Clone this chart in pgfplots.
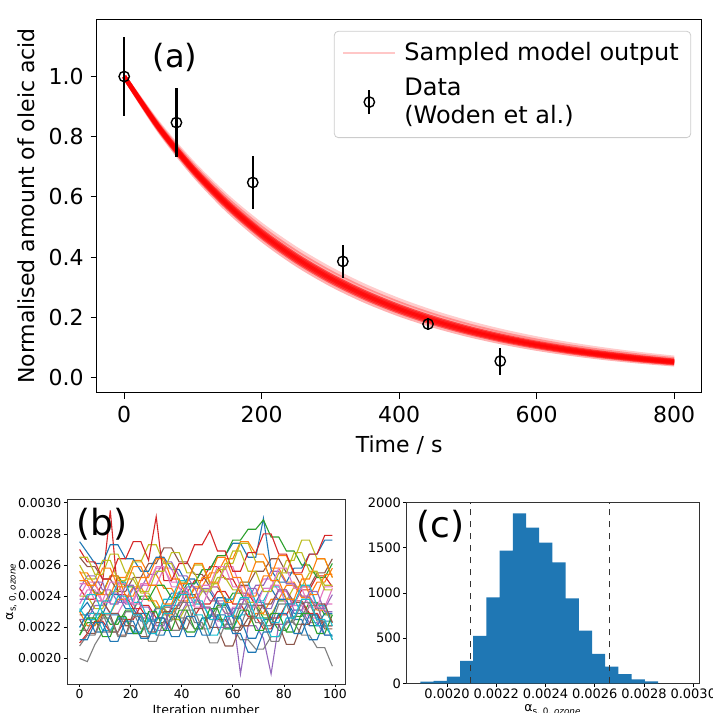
\documentclass[border=0pt]{standalone}
\usepackage{fontspec}
\setmainfont{DejaVu Sans}
\usepackage{pgfplots}
\usepackage{pgfplotstable}
\pgfplotsset{compat=1.18}

\definecolor{tabblue}{HTML}{1F77B4}
\definecolor{taborange}{HTML}{FF7F0E}
\definecolor{tabgreen}{HTML}{2CA02C}
\definecolor{tabred}{HTML}{D62728}
\definecolor{tabpurple}{HTML}{9467BD}
\definecolor{tabbrown}{HTML}{8C564B}
\definecolor{tabpink}{HTML}{E377C2}
\definecolor{tabgray}{HTML}{7F7F7F}
\definecolor{tabolive}{HTML}{BCBD22}
\definecolor{tabcyan}{HTML}{17BECF}

\pgfplotscreateplotcyclelist{tab}{%
{tabblue},{taborange},{tabgreen},{tabred},{tabpurple},{tabbrown},{tabpink},{tabgray},{tabolive},{tabcyan}}

% MCMC traces, values in units of 1e-4
\pgfplotstableread{
x  c1   c2   c3   c4   c5   c6   c7   c8   c9   c10  c11  c12  c13  c14  c15  c16  c17  c18  c19  c20  c21  c22  c23  c24  c25  c26  c27  c28  c29  c30  c31  c32
0  23.0 25.5 21.5 24.5 22.5 26.5 23.5 20.0 24.0 22.0 27.5 23.0 25.0 21.0 24.5 22.8 24.0 21.8 26.0 23.2 22.0 25.0 21.5 27.0 23.8 22.5 24.8 20.8 26.5 23.0 21.2 25.6
3  23.6 25.5 22.3 23.8 22.5 25.9 24.4 19.8 24.0 22.9 26.8 22.1 25.0 21.6 25.3 22.8 24.9 21.8 25.1 22.5 22.9 25.0 22.6 26.2 23.8 21.6 24.8 21.5 26.5 24.1 21.2 24.7
6  22.8 24.7 22.3 23.8 23.4 25.9 24.4 20.9 23.2 22.9 26.1 22.1 24.2 22.4 25.3 23.7 24.9 22.9 25.1 22.5 21.7 24.1 22.6 26.2 24.9 21.6 23.7 21.5 25.4 24.1 22.3 24.7
9  22.8 24.1 23.0 24.9 23.4 25.1 23.6 21.7 23.2 21.8 26.1 22.9 24.2 22.4 24.4 23.7 23.6 22.9 26.3 23.7 21.7 24.1 21.4 25.1 24.9 22.8 23.7 22.6 25.4 22.9 22.3 25.8
12 24.1 24.1 22.2 29.5 24.2 25.1 22.9 21.7 24.3 21.8 27.3 22.9 25.3 21.7 24.4 22.9 23.6 21.7 26.3 23.7 22.8 25.3 21.4 25.1 23.5 22.8 24.9 22.6 26.7 22.9 21.1 25.8
15 24.1 25.2 22.2 24.1 24.2 24.3 22.9 22.5 24.3 22.6 27.3 23.8 25.3 21.7 23.6 22.9 24.8 21.7 25.0 24.9 22.8 25.3 22.7 26.4 23.5 21.5 24.9 21.4 26.7 24.0 21.1 24.6
18 23.2 25.2 23.1 24.1 23.5 24.3 23.8 22.5 25.1 22.6 26.4 23.8 24.6 22.5 23.6 22.1 24.8 23.0 25.0 24.9 21.6 24.0 22.7 26.4 24.7 21.5 23.6 21.4 25.5 24.0 22.4 24.6
21 23.2 26.3 23.1 23.2 23.5 25.2 23.8 21.6 25.1 21.7 26.4 24.6 24.6 22.5 24.5 22.1 23.5 23.0 26.2 23.6 21.6 24.0 21.6 27.5 24.7 22.9 23.6 22.7 25.5 22.8 22.4 25.9
24 22.4 26.3 24.0 23.2 22.6 25.2 24.7 21.6 24.2 21.7 25.6 24.6 23.8 23.4 24.5 21.4 23.5 21.9 26.2 23.6 22.9 25.2 21.6 27.5 23.3 22.9 24.8 22.7 24.3 22.8 21.3 25.9
27 22.4 25.4 24.0 22.4 22.6 26.1 24.7 22.4 24.2 22.5 25.6 23.7 23.8 23.4 25.4 21.4 24.7 21.9 27.3 22.4 22.9 25.2 23.0 26.3 23.3 21.7 24.8 21.1 24.3 21.6 21.3 24.7
30 23.3 25.4 23.2 22.4 21.8 26.1 25.8 22.4 23.3 22.5 26.5 23.7 24.7 22.6 25.4 22.3 24.7 23.2 27.3 22.4 21.5 26.4 23.0 29.1 22.1 21.7 25.9 21.1 25.6 21.6 22.6 24.7
33 23.3 24.5 23.2 23.3 21.8 27.1 25.8 23.3 23.3 23.4 26.5 22.8 24.7 22.6 26.2 22.3 25.8 23.2 26.1 23.8 21.5 26.4 21.8 25.0 22.1 23.0 25.9 22.4 25.6 22.9 22.6 23.5
36 24.2 24.5 22.5 23.3 22.7 27.1 24.9 23.3 22.5 23.4 25.7 22.8 23.9 21.8 26.2 23.2 25.8 21.8 26.1 23.8 22.7 25.1 21.8 25.0 23.4 23.0 24.6 22.4 26.8 22.9 21.4 23.5
39 24.2 23.7 22.5 24.2 22.7 26.2 24.9 22.6 22.5 24.3 25.7 23.6 23.9 21.8 25.3 23.2 24.5 21.8 24.9 25.0 22.7 25.1 23.1 26.1 23.4 21.9 24.6 23.6 26.8 24.1 21.4 24.8
42 25.1 23.7 21.7 24.2 23.6 26.2 24.1 22.6 23.4 24.3 24.8 23.6 24.8 22.7 25.3 24.1 24.5 23.1 24.9 25.0 21.4 23.9 23.1 26.1 24.6 21.9 23.4 23.6 25.5 24.1 22.7 24.8
45 25.1 24.6 21.7 25.0 23.6 25.4 24.1 21.9 23.4 23.5 24.8 24.5 24.8 22.7 24.5 24.1 23.3 23.1 26.0 23.7 21.4 23.9 21.9 27.3 24.6 23.2 23.4 22.3 25.5 22.8 22.7 26.1
48 24.3 24.6 22.6 25.0 24.5 25.4 23.2 21.9 24.3 23.5 25.7 24.5 25.7 23.5 24.5 23.3 23.3 21.9 26.0 23.7 22.6 25.2 21.9 27.3 23.3 23.2 24.7 22.3 24.4 22.8 21.5 26.1
51 24.3 25.5 22.6 25.9 24.5 24.6 23.2 22.8 24.3 22.7 25.7 23.7 25.7 23.5 23.7 23.3 24.6 21.9 24.8 22.5 22.6 25.2 23.2 28.2 23.3 22.0 24.7 21.0 24.4 21.5 21.5 24.9
54 23.5 25.5 23.4 25.9 23.7 24.6 22.4 22.8 25.2 22.7 26.6 23.7 26.6 24.3 23.7 22.5 24.6 23.3 24.8 22.5 23.9 26.5 23.2 26.9 22.0 22.0 25.9 21.0 25.7 21.5 22.8 24.9
57 23.5 26.4 23.4 25.1 23.7 23.8 22.4 22.0 25.2 21.9 26.6 22.9 26.6 24.3 22.9 22.5 25.9 23.3 26.1 23.8 23.9 26.5 21.9 26.9 22.0 20.8 25.9 22.2 25.7 22.7 22.8 23.6
60 22.7 26.4 24.2 25.1 22.9 23.8 23.3 22.0 24.4 21.9 27.4 22.9 27.6 23.5 22.9 21.8 25.9 22.0 26.1 23.8 22.6 25.2 21.9 25.6 23.2 20.8 24.6 22.2 26.9 22.7 21.6 23.6
63 22.7 27.5 24.2 24.2 19.0 24.7 23.3 21.2 24.4 22.8 27.4 22.1 27.6 23.5 23.8 21.8 24.6 22.0 27.4 24.9 22.6 25.2 23.1 25.6 23.2 22.1 24.6 23.5 26.9 23.9 21.6 24.9
66 23.6 27.5 23.4 24.2 22.1 24.7 24.2 21.2 23.6 22.8 26.5 22.1 28.3 22.7 23.8 22.6 24.6 23.4 27.4 24.9 21.3 24.0 23.1 26.8 24.5 22.1 23.3 23.5 25.6 23.9 20.4 24.9
69 23.6 26.7 23.4 23.4 22.1 25.6 24.2 20.6 23.6 23.7 26.5 22.9 28.3 22.7 24.7 22.6 23.4 23.4 26.2 23.6 21.3 24.0 21.8 26.8 24.5 23.4 23.3 22.3 25.6 22.6 20.4 26.2
72 24.5 26.7 22.6 23.4 21.3 25.6 25.1 20.6 22.8 23.7 29.0 22.9 28.9 21.9 24.7 23.5 23.4 22.1 26.2 23.6 22.5 25.3 21.8 28.0 23.2 23.4 24.5 22.3 24.3 22.6 21.7 26.2
75 24.5 25.8 22.6 22.6 19.0 26.4 25.1 21.4 22.8 24.6 25.7 23.8 27.8 21.9 25.6 23.5 24.7 22.1 25.0 22.3 22.5 25.3 22.9 28.0 23.2 22.2 24.5 21.1 24.3 21.4 21.7 25.0
78 23.7 25.8 21.8 22.6 22.2 26.4 24.3 21.4 23.7 24.6 24.9 23.8 27.8 22.8 25.6 24.4 24.7 23.5 25.0 22.3 23.8 26.6 22.9 26.7 24.4 22.2 25.8 21.1 25.5 21.4 22.9 25.0
81 23.7 24.9 21.8 23.5 22.2 25.5 24.3 22.3 23.7 23.8 24.9 24.7 26.9 22.8 24.8 24.4 23.4 23.5 26.3 23.5 23.8 26.6 21.7 26.7 24.4 20.9 25.8 22.4 25.5 22.6 22.9 23.8
84 22.9 24.9 22.7 23.5 23.1 25.5 23.4 22.3 24.6 23.8 25.8 24.7 26.9 23.7 24.8 23.6 23.4 22.2 26.3 23.5 22.5 25.4 21.7 25.5 23.1 20.9 24.5 22.4 26.8 22.6 21.6 23.8
87 22.9 24.0 22.7 24.4 23.1 24.6 23.4 21.5 24.6 22.9 25.8 23.9 26.0 23.7 24.0 23.6 24.6 22.2 27.6 24.7 22.5 25.4 22.9 25.5 23.1 22.2 24.5 23.6 26.8 23.8 21.6 25.1
90 22.1 24.0 23.6 24.4 22.3 24.6 22.6 21.5 25.5 22.9 26.7 23.9 26.0 22.9 24.0 22.8 24.6 23.4 27.6 24.7 21.2 24.1 22.9 26.7 24.3 22.2 23.3 23.6 25.6 23.8 22.8 25.1
93 22.1 24.9 23.6 25.3 22.3 25.5 22.6 20.7 25.5 22.1 26.7 23.1 25.2 22.9 23.2 22.8 23.3 23.4 26.4 23.4 21.2 24.1 21.6 26.7 24.3 23.5 23.3 22.4 25.6 22.5 22.8 26.4
96 22.9 24.9 22.8 25.3 21.5 25.5 23.5 20.7 24.7 22.1 27.6 23.1 25.2 22.1 23.2 21.9 23.3 22.1 26.4 23.4 22.4 25.4 21.6 27.9 23.0 23.5 24.6 22.4 24.4 22.5 21.5 26.4
99 22.9 25.8 22.8 24.6 21.5 26.4 23.5 19.5 24.7 21.4 27.6 22.3 26.1 22.1 24.1 21.9 24.5 22.1 25.2 22.1 22.4 25.4 22.8 27.9 23.0 22.3 24.6 21.2 24.4 21.2 21.5 25.2
}\tracetable

\begin{document}
\begin{tikzpicture}
\useasboundingbox (0,0) rectangle (356.5pt,356.5pt);
\clip (0,0) rectangle (356.5pt,356.5pt);

% ---------------- panel (a)
\begin{axis}[
    at={(48.35pt,160.15pt)}, anchor=south west,
    width=302.5pt, height=186.7pt, scale only axis,
    xmin=-40, xmax=840, ymin=-0.05, ymax=1.19,
    xtick={0,200,400,600,800},
    ytick={0,0.2,0.4,0.6,0.8,1.0},
    yticklabel style={/pgf/number format/.cd, fixed, fixed zerofill, precision=1},
    /pgf/number format/assume math mode=true,
    tick align=outside, xtick pos=bottom, ytick pos=left,
    major tick length=3pt,
    tick style={black, line width=0.5pt},
    axis line style={line width=0.5pt},
    ticklabel style={font=\fontsize{11}{13}\selectfont},
    label style={font=\fontsize{11}{13}\selectfont},
    xlabel={Time / s},
    ylabel={Normalised amount of oleic acid},
    legend style={at={(1,1)}, anchor=north east, xshift=-5.3pt, yshift=-5.8pt,
        draw=black!20, rounded corners=2pt, font=\fontsize{12}{14.3}\selectfont,
        cells={align=left, anchor=west}, inner xsep=4pt, inner ysep=3.5pt,
        row sep=3pt, column sep=2pt},
]
% pale outer model samples
\addplot[red, opacity=0.2, line width=2.2pt, smooth, forget plot] coordinates {
(0,1) (50,0.8437) (100,0.7118) (150,0.6005) (200,0.5066) (250,0.4274) (300,0.3606) (350,0.3042) (400,0.2567) (450,0.2165) (500,0.1827) (550,0.1541) (600,0.1300) (650,0.1097) (700,0.0926) (750,0.0781) (800,0.0659)};
\addplot[red, opacity=0.3, line width=2.2pt, smooth, forget plot] coordinates {
(0,1) (50,0.8395) (100,0.7047) (150,0.5916) (200,0.4967) (250,0.4169) (300,0.3500) (350,0.2938) (400,0.2467) (450,0.2071) (500,0.1738) (550,0.1459) (600,0.1225) (650,0.1028) (700,0.0863) (750,0.0725) (800,0.0608)};
\addplot[red, opacity=0.3, line width=2.2pt, smooth, forget plot] coordinates {
(0,1) (50,0.8228) (100,0.6771) (150,0.5571) (200,0.4584) (250,0.3772) (300,0.3104) (350,0.2554) (400,0.2101) (450,0.1729) (500,0.1423) (550,0.1171) (600,0.0963) (650,0.0793) (700,0.0652) (750,0.0537) (800,0.0442)};
% dense core
\addplot[red, opacity=0.6, line width=2.2pt, smooth, forget plot] coordinates {
(0,1) (50,0.8353) (100,0.6977) (150,0.5827) (200,0.4868) (250,0.4066) (300,0.3396) (350,0.2837) (400,0.2369) (450,0.1979) (500,0.1653) (550,0.1381) (600,0.1153) (650,0.0963) (700,0.0805) (750,0.0672) (800,0.0561)};
\addplot[red, opacity=0.6, line width=2.2pt, smooth, forget plot] coordinates {
(0,1) (50,0.8332) (100,0.6942) (150,0.5784) (200,0.4820) (250,0.4016) (300,0.3346) (350,0.2788) (400,0.2323) (450,0.1935) (500,0.1613) (550,0.1344) (600,0.1120) (650,0.0933) (700,0.0777) (750,0.0648) (800,0.0540)};
\addplot[red, opacity=0.6, line width=2.2pt, smooth, forget plot] coordinates {
(0,1) (50,0.8311) (100,0.6907) (150,0.5741) (200,0.4771) (250,0.3965) (300,0.3296) (350,0.2739) (400,0.2276) (450,0.1892) (500,0.1572) (550,0.1307) (600,0.1086) (650,0.0903) (700,0.0750) (750,0.0624) (800,0.0518)};
\addplot[red, opacity=0.6, line width=2.2pt, smooth, forget plot] coordinates {
(0,1) (50,0.8290) (100,0.6873) (150,0.5698) (200,0.4723) (250,0.3916) (300,0.3246) (350,0.2691) (400,0.2231) (450,0.1850) (500,0.1533) (550,0.1271) (600,0.1054) (650,0.0874) (700,0.0724) (750,0.0600) (800,0.0498)};
\addplot[red, opacity=0.5, line width=2.2pt, smooth, forget plot] coordinates {
(0,1) (50,0.8270) (100,0.6839) (150,0.5655) (200,0.4677) (250,0.3867) (300,0.3198) (350,0.2645) (400,0.2187) (450,0.1809) (500,0.1496) (550,0.1237) (600,0.1023) (650,0.0846) (700,0.0699) (750,0.0578) (800,0.0478)};
% data with error bars
\addplot[black, only marks, mark=o, mark size=2.6pt, mark options={line width=0.7pt}, forget plot,
    error bars/.cd, y dir=both, y explicit, error mark=none,
    error bar style={line width=1.1pt}]
coordinates {
    (0, 1.000) +- (0, 0.130)
    (76, 0.847) +- (0, 0.115)
    (187, 0.648) +- (0, 0.088)
    (318, 0.386) +- (0, 0.055)
    (442, 0.178) +- (0, 0.020)
    (547, 0.055) +- (0, 0.045)
};
\addlegendimage{legend image code/.code={\draw[red!22, line width=1pt] (0pt,0pt) -- (26pt,0pt);}}
\addlegendentry{Sampled model output}
\addlegendimage{legend image code/.code={\path[draw=none, fill=none] (0pt,-0.5pt) rectangle (26pt,0.5pt);
    \draw[black, line width=1.1pt] (13pt,-6pt) -- (13pt,6pt);
    \draw[black, line width=0.7pt] (13pt,0pt) circle (2.6pt);}}
\addlegendentry{Data\\(Woden et al.)}
\node[anchor=center, font=\fontsize{16}{18}\selectfont] at (axis cs:74,1.063) {(a)};
\end{axis}

% ---------------- panel (b)
\begin{axis}[
    at={(33.5pt,14.5pt)}, anchor=south west,
    width=139pt, height=92.5pt, scale only axis,
    xmin=-4.95, xmax=103.95, ymin=18.36, ymax=30.24,
    xtick={0,20,40,60,80,100},
    ytick={20,22,24,26,28,30},
    yticklabels={0.0020,0.0022,0.0024,0.0026,0.0028,0.0030},
    /pgf/number format/assume math mode=true,
    tick align=outside, xtick pos=bottom, ytick pos=left,
    major tick length=1.6pt,
    tick style={black, line width=0.35pt},
    axis line style={line width=0.4pt, black!80},
    ticklabel style={font=\fontsize{6.2}{7.5}\selectfont, inner sep=1pt},
    label style={font=\fontsize{6.3}{7}\selectfont},
    xlabel style={yshift=1.5pt},
    ylabel style={at={(axis description cs:-0.2,0.5)}, anchor=center},
    xlabel={Iteration number},
    ylabel={α\textsubscript{s, 0, \textit{ozone}}},
    cycle list name=tab, no markers,
]
\pgfplotsinvokeforeach{1,...,32}{
  \addplot+[line width=0.55pt] table[x=x, y=c#1]{\tracetable};
}
\node[anchor=north west, font=\fontsize{18}{20}\selectfont] at (rel axis cs:0.01,0.99) {(b)};
\end{axis}

% ---------------- panel (c)
\begin{axis}[
    at={(203.3pt,14.85pt)}, anchor=south west,
    width=146.3pt, height=90.3pt, scale only axis,
    xmin=18.36, xmax=30.24, ymin=0, ymax=2000,
    xtick={20,22,24,26,28,30},
    xticklabels={0.0020,0.0022,0.0024,0.0026,0.0028,0.0030},
    ytick={0,500,1000,1500,2000},
    /pgf/number format/set thousands separator={},
    /pgf/number format/assume math mode=true,
    tick align=outside, xtick pos=bottom, ytick pos=left,
    major tick length=1.6pt,
    tick style={black, line width=0.35pt},
    axis line style={line width=0.4pt, black!80},
    ticklabel style={font=\fontsize{6.5}{7.5}\selectfont, inner sep=1pt},
    label style={font=\fontsize{6.3}{7}\selectfont},
    xlabel style={yshift=1.5pt},
    xlabel={α\textsubscript{s, 0, \textit{ozone}}},
]
\addplot[ybar interval, fill=tabblue, draw=none] coordinates {
(18.920,18) (19.456,26) (19.992,74) (20.528,247) (21.064,524) (21.600,952)
(22.136,1469) (22.672,1882) (23.208,1723) (23.744,1557) (24.280,1339)
(24.816,941) (25.352,583) (25.888,325) (26.424,185) (26.960,103)
(27.496,44) (28.032,22) (28.568,22)};
\addplot[black!80, dashed, line width=0.5pt] coordinates {(20.95,0) (20.95,2000)};
\addplot[black!80, dashed, line width=0.5pt] coordinates {(26.59,0) (26.59,2000)};
\node[anchor=north west, font=\fontsize{18}{20}\selectfont] at (rel axis cs:0.01,1.0) {(c)};
\end{axis}
\end{tikzpicture}
\end{document}
